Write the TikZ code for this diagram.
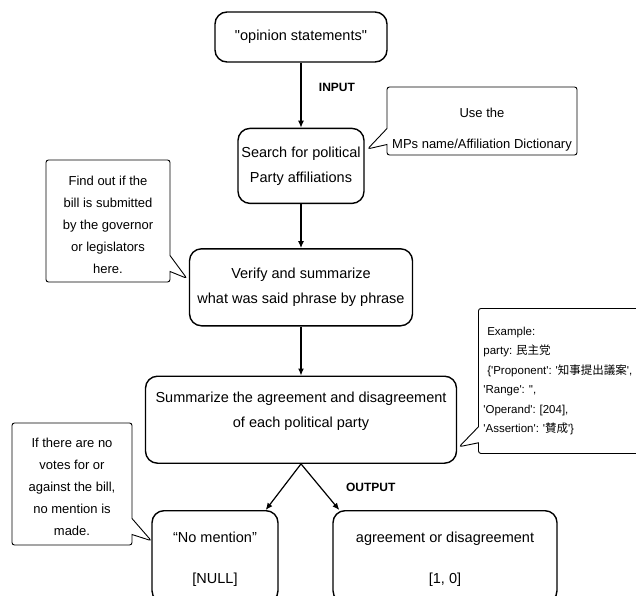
\documentclass[tikz,border=0pt]{standalone}
\usepackage{fontspec}
\setmainfont{Liberation Sans}
\newfontfamily\jpfont{Noto Sans CJK JP}
\newfontfamily\codefont{Liberation Sans}[Ligatures=TeXOff]
\usetikzlibrary{
  arrows.meta,
  positioning,
  shapes.callouts
}
\tikzset{
  stepbox/.style={draw, rounded corners=12bp, line width=1.4bp,
    align=center, inner sep=0pt,
    font=\fontsize{14.5bp}{25bp}\selectfont},
  notebox/.style={rectangle callout, draw, rounded corners=2.5bp,
    line width=0.9bp, callout pointer width=16bp,
    align=center, inner sep=0pt,
    font=\fontsize{13bp}{22bp}\selectfont},
  arr/.style={-{Latex[length=7bp,width=6bp]}, line width=1.2bp},
  flowlabel/.style={font=\fontsize{12bp}{14bp}\selectfont\bfseries},
}

\begin{document}
\begin{tikzpicture}[x=1bp, y=-1bp, node distance=44bp]
  \clip (0,0) rectangle (636,596);

  % Main flow
  \node[stepbox, minimum width=172bp, minimum height=50bp] (opin) at (301,37)
    {\textquotedbl opinion statements\textquotedbl};
  \node[stepbox, minimum width=126bp, minimum height=75bp,
        below=65bp of opin] (search)
    {Search for political\\Party affiliations};
  \node[stepbox, minimum width=223bp, minimum height=77bp,
        below=of search] (verify)
    {Verify and summarize\\what was said phrase by phrase};
  \node[stepbox, minimum width=311bp, minimum height=87bp,
        text depth=19bp, below=49bp of verify] (summ)
    {Summarize the agreement and disagreement\\of each political party};

  % Results
  \node[stepbox, minimum width=126bp, minimum height=92bp, anchor=north,
        text height=56.5bp] (nomen) at (215,510)
    {“No mention”\\[16bp][NULL]};
  \node[stepbox, minimum width=224bp, minimum height=92bp, anchor=north,
        text height=56.5bp] (agree) at (445,510)
    {agreement or disagreement\\[16bp][1, 0]};

  % Notes
  \node[notebox, minimum width=190bp, minimum height=68bp,
        font=\fontsize{13bp}{31bp}\selectfont, text height=58.5bp,
        callout absolute pointer={([xshift=3bp,yshift=17bp]search.east)}]
    (dict) at (482,121) {Use the\\MPs name/Affiliation Dictionary};
  \node[notebox, minimum width=124bp, minimum height=122bp,
        text height=104.5bp,
        callout absolute pointer={([xshift=-2bp,yshift=9bp]verify.west)}]
    (bill) at (108,221)
    {Find out if the\\bill is submitted\\by the governor\\or legislators\\here.};
  \node[notebox, anchor=north west, minimum height=145bp,
        text width=165bp, inner xsep=5bp, align=left,
        font=\codefont\fontsize{11.5bp}{19.5bp}\selectfont\frenchspacing,
        callout absolute pointer={([xshift=2bp,yshift=-27bp]summ.east)}]
    (example) at (478,308)
    {\ Example:\\
     party: {\jpfont 民主党}\\
     \ \{'Proponent': '{\jpfont 知事提出議案}',\\
     'Range': '',\\
     'Operand': [204],\\
     'Assertion': '{\jpfont 賛成}'\}};
  \node[notebox, minimum width=120bp, minimum height=122bp,
        text height=102.5bp,
        callout absolute pointer={([yshift=16bp]nomen.west)}]
    (novote) at (72,484)
    {If there are no\\votes for or\\against the bill,\\no mention is\\made.};

  % Arrows
  \draw[arr] (opin) -- (search)
    node[flowlabel, pos=0.38, right=14bp] (input) {INPUT};
  \draw[arr] (search) -- (verify);
  \draw[arr] (verify) -- (summ);
  \draw[arr] (summ.south) -- ([xshift=-13bp]nomen.north east);
  \draw[arr] (summ.south) -- ([xshift=7bp]agree.north west)
    node[flowlabel, midway, right=22bp] (output) {OUTPUT};
\end{tikzpicture}
\end{document}
